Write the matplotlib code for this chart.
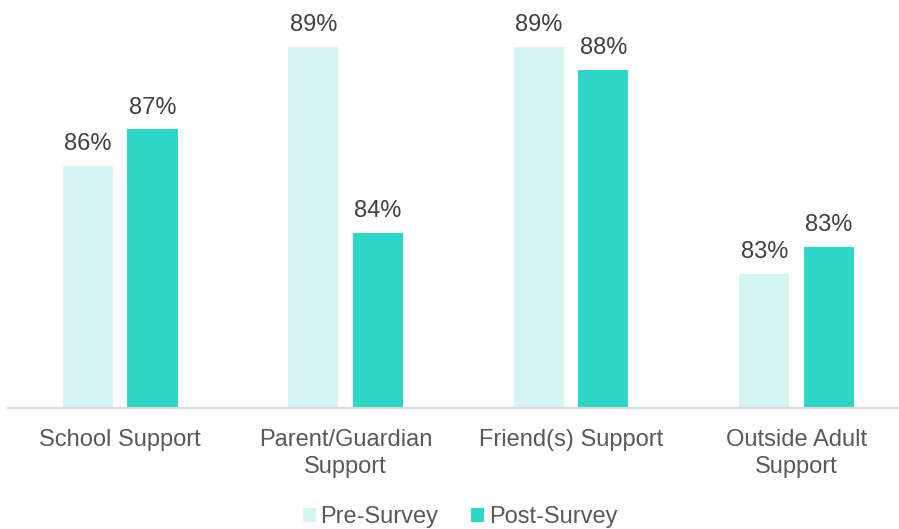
import numpy as np
import matplotlib.pyplot as plt

plt.rcParams['font.family'] = ['Liberation Sans', 'DejaVu Sans']

categories = ['School Support', 'Parent/Guardian\nSupport', 'Friend(s) Support', 'Outside Adult\nSupport']
pre_survey = [85.56, 88.80, 88.80, 82.66]
post_survey = [86.56, 83.77, 88.18, 83.37]
series_names = ['Pre-Survey', 'Post-Survey']

pre_color = '#D5F5F2'
post_color = '#2ED6C8'

fig = plt.figure(figsize=(8.99, 5.29), dpi=100)
ax = fig.add_axes([7.5 / 899, 1 - 408 / 529, 890.5 / 899, 398 / 529])

x = np.arange(len(categories))
w = 50 / 225.5
off = 32.25 / 225.5

b1 = ax.bar(x - off, pre_survey, w, color=pre_color, label=series_names[0])
b2 = ax.bar(x + off, post_survey, w, color=post_color, label=series_names[1])

for bars, vals in [(b1, pre_survey), (b2, post_survey)]:
    for rect, v in zip(bars, vals):
        ax.annotate(f'{v:.0f}%', (rect.get_x() + rect.get_width() / 2, v),
                    xytext=(0, 11.5), textcoords='offset points',
                    ha='center', va='baseline', fontsize=17, color='#404040')

ax.set_ylim(79.03, 89.79)
ax.set_xlim(-0.5, 3.5 - 11.5 / 225.5)
ax.set_xticks(x)
ax.set_xticklabels(categories, fontsize=17, color='#595959', linespacing=1.32)
ax.tick_params(axis='x', length=0, pad=15)
ax.set_yticks([])
for s in ['top', 'right', 'left']:
    ax.spines[s].set_visible(False)
ax.spines['bottom'].set_color('#D9D9D9')
ax.spines['bottom'].set_linewidth(1.5)

fig.legend(loc='center', bbox_to_anchor=(460 / 899, 1 - 517 / 529), ncol=2,
           frameon=False, fontsize=17, handlelength=0.55, handleheight=0.55,
           handletextpad=0.2, columnspacing=1.4, labelcolor='#595959')

fig.savefig('out.png', dpi=100)
